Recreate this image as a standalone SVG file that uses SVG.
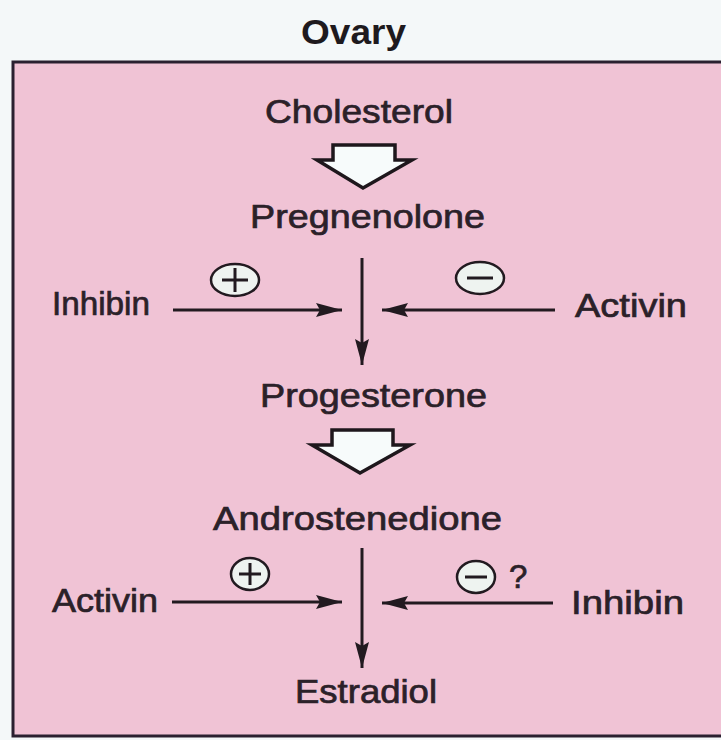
<svg xmlns="http://www.w3.org/2000/svg" width="721" height="740" viewBox="0 0 721 740">
<defs>
<style>
.t{font-family:"Liberation Sans",Arial,sans-serif;font-size:33px;fill:#2b2129;stroke:#2b2129;stroke-width:0.7;}
.title{font-family:"Liberation Sans",Arial,sans-serif;font-size:35px;font-weight:bold;fill:#1e1a1e;}
.ln{stroke:#221a20;stroke-width:3;fill:none;}
.hollow{fill:#f7fbfb;stroke:#1e171c;stroke-width:3.5;stroke-linejoin:miter;}
.sign{fill:#eef3f0;stroke:#221a20;stroke-width:2.5;}
.sg{stroke:#221a20;stroke-width:3;}
</style>
<marker id="ah" viewBox="0 0 26 14" refX="26" refY="7" markerWidth="26" markerHeight="14" markerUnits="userSpaceOnUse" orient="auto">
<path d="M0,0 L26,7 L0,14 L4,7 Z" fill="#221a20"/>
</marker>
</defs>
<rect x="0" y="0" width="721" height="740" fill="#f4f8f9"/>
<text class="title" x="301" y="44" textLength="105" lengthAdjust="spacingAndGlyphs">Ovary</text>
<rect x="13" y="62" width="716" height="674" fill="#f0c3d5" stroke="#2a2030" stroke-width="3"/>

<g id="cholesterol"><text class="t" x="265" y="123" textLength="188" lengthAdjust="spacingAndGlyphs">Cholesterol</text></g>
<g id="pregnenolone"><text class="t" x="250" y="228" textLength="235" lengthAdjust="spacingAndGlyphs">Pregnenolone</text></g>
<g id="inhibin1"><text class="t" x="52" y="315" textLength="98" lengthAdjust="spacingAndGlyphs">Inhibin</text></g>
<g id="activin1"><text class="t" x="575" y="317" textLength="112" lengthAdjust="spacingAndGlyphs">Activin</text></g>
<g id="progesterone"><text class="t" x="260" y="407" textLength="227" lengthAdjust="spacingAndGlyphs">Progesterone</text></g>
<g id="androstenedione"><text class="t" x="213" y="530" textLength="289" lengthAdjust="spacingAndGlyphs">Androstenedione</text></g>
<g id="activin2"><text class="t" x="52" y="612" textLength="106" lengthAdjust="spacingAndGlyphs">Activin</text></g>
<g id="inhibin2"><text class="t" x="571" y="614" textLength="113" lengthAdjust="spacingAndGlyphs">Inhibin</text></g>
<g id="estradiol"><text class="t" x="295" y="703" textLength="142" lengthAdjust="spacingAndGlyphs">Estradiol</text></g>

<g id="signs">
<ellipse class="sign" cx="235" cy="280" rx="24" ry="16"/>
<line class="sg" x1="222" y1="280" x2="248" y2="280"/><line class="sg" x1="235" y1="268" x2="235" y2="292"/>
<ellipse class="sign" cx="480" cy="278" rx="24" ry="16"/>
<line class="sg" x1="467" y1="278" x2="493" y2="278"/>
<ellipse class="sign" cx="250" cy="574" rx="19" ry="16"/>
<line class="sg" x1="239" y1="574" x2="261" y2="574"/><line class="sg" x1="250" y1="563" x2="250" y2="585"/>
<ellipse class="sign" cx="476" cy="577" rx="19" ry="16"/>
<line class="sg" x1="465" y1="577" x2="487" y2="577"/>
<text class="t" x="509" y="588" font-size="30">?</text>
</g>

<g id="connectors">
<polygon class="hollow" points="333,145 395,145 395,160 412,160 363,188 317,160 333,160"/>
<polygon class="hollow" points="332,430 393,430 393,445 410,445 360,473 312,445 332,445"/>
<line class="ln" x1="362" y1="258" x2="362" y2="365" marker-end="url(#ah)"/>
<line class="ln" x1="173" y1="310" x2="342" y2="310" marker-end="url(#ah)"/>
<line class="ln" x1="555" y1="310" x2="382" y2="310" marker-end="url(#ah)"/>
<line class="ln" x1="362" y1="548" x2="362" y2="668" marker-end="url(#ah)"/>
<line class="ln" x1="172" y1="602" x2="342" y2="602" marker-end="url(#ah)"/>
<line class="ln" x1="553" y1="603" x2="382" y2="603" marker-end="url(#ah)"/>
</g>
</svg>
